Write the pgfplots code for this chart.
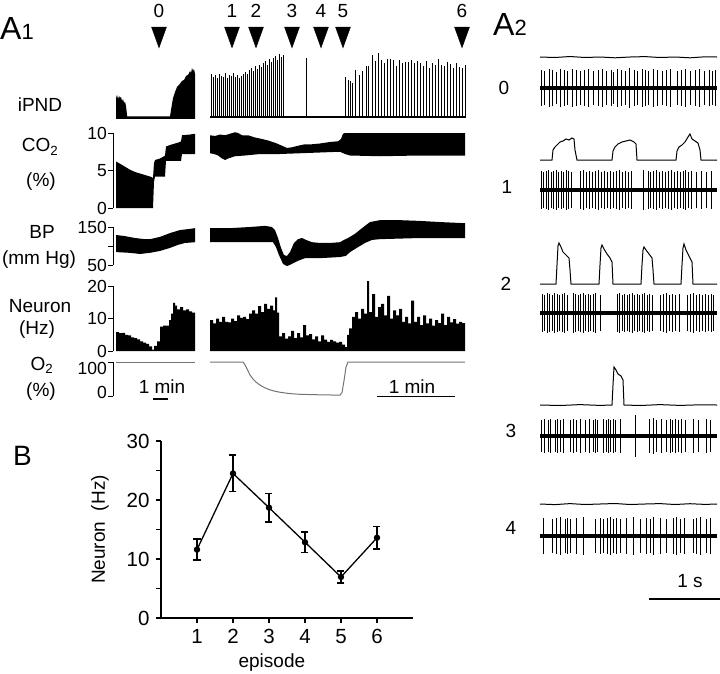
\documentclass[border=0pt]{standalone}
\usepackage{pgfplots}
\pgfplotsset{compat=1.18}
\usepackage{fontspec}
\setmainfont{Liberation Sans}

\pgfplotsset{
  /pgf/number format/assume math mode=true,
  trace/.style={scale only axis, clip=false, xmin=113, xmax=465, width=352pt,
    axis y line=left, axis x line=none, axis line style={-, line width=1pt},
    tick align=outside, major tick length=5pt, tick style={line width=1pt, black},
    xtick=\empty, yticklabel style={inner sep=1pt, font=\fontsize{17.5}{20}\selectfont},
    anchor=south west},
  spikes/.style={black, line width=3.5pt, mark=none,
    error bars/.cd, y dir=both, y explicit, error mark=none,
    error bar style={line width=1pt}},
  upspikes/.style={draw=none, mark=none,
    error bars/.cd, y dir=plus, y explicit, error mark=none,
    error bar style={draw=black, line width=0.9pt}},
}

\begin{document}
\fontsize{19}{22}\selectfont
\begin{tikzpicture}
\useasboundingbox (0,0) rectangle (720pt,-674pt);

% ---------------- A1 ----------------
\node[anchor=base west, inner sep=0] at (0pt,-40pt) {\fontsize{32}{34}\selectfont A\fontsize{22}{24}\selectfont 1};

% iPND
\begin{axis}[trace, hide axis, ymin=0, ymax=70, height=70pt, at={(113pt,-118pt)}]
\addplot[fill=black, draw=none] coordinates {
 (116,-1)(116,20)(117,23)(118,19)(119,22)(120,20)(121,21)(122,17)(123,19)(124,15)
 (125,16)(126,12)(127,3)(127,1.5)(170,1.5)(171,8)(173,20)(175,26)(177,31)(179,33)
 (182,37)(184,38)(186,42)(188,43)(190,47)(191,45)(192,50)(193,47)(194,49)(195,44)(195,-1)};
\addplot[black, line width=2pt] coordinates {(210,0.5)(465,0.5)};
\addplot[upspikes] table[y error=e] {
x y e
211 0 44
213 0 41
215 0 43
217 0 40
219 0 44
221 0 42
223 0 41
225 0 45
227 0 40
229 0 43
231 0 42
233 0 45
235 0 41
237 0 43
239 0 40
241 0 42
243 0 44
245 0 46
247 0 44
249 0 48
251 0 50
253 0 47
255 0 52
257 0 49
259 0 53
261 0 51
263 0 55
265 0 57
267 0 53
269 0 59
271 0 56
273 0 60
275 0 62
277 0 58
279 0 64
281 0 61
283 0 63
306 0 60
345 0 41
348 0 38
350 0 37
352 0 35
355 0 48
359 0 43
362 0 47
366 0 52
368 0 52
372 0 63
375 0 57
378 0 65
381 0 58
384 0 55
387 0 59
390 0 59
393 0 58
396 0 52
399 0 58
402 0 55
405 0 56
408 0 56
411 0 58
414 0 55
417 0 57
420 0 55
423 0 52
426 0 57
429 0 50
432 0 55
435 0 53
438 0 59
441 0 53
444 0 52
447 0 56
450 0 54
453 0 50
456 0 55
459 0 51
462 0 50
465 0 53
};
\addplot[only marks, mark=triangle*, mark size=8.6pt,
  mark options={rotate=180, yscale=1.6, fill=black, draw=none},
  point meta=explicit symbolic, nodes near coords,
  every node near coord/.style={anchor=base, yshift=16.5pt}]
  coordinates {(159,84)[0] (232,84)[1] (256,84)[2] (292,84)[3] (321,84)[4] (343,84)[5] (462,84)[6]};
\end{axis}
\node[anchor=base] at (40pt,-112pt) {iPND};

% CO2
\begin{axis}[trace, ymin=0, ymax=10, height=75pt, ytick={0,5,10}, at={(113pt,-208pt)}]
\addplot[fill=black, draw=none] coordinates {
 (116,6.2)(120,5.9)(125,5.5)(130,5.1)(135,4.8)(140,4.6)(145,4.4)(150,4.2)(152,4.1)(153,4.0)
 (154,6.0)(155,6.4)(160,6.6)(164,6.9)(165,7.0)(166,8.2)(170,8.4)(175,8.6)(180,8.8)(181,8.9)
 (182,9.7)(190,9.8)(195,9.9)
 (195,7.2)(182,7.2)(181,6.3)(166,6.3)(165,4.2)(155,4.2)(154,3.5)(153,0)(116,0)};
\addplot[fill=black, draw=none] coordinates {
 (210,9.7)(215,9.6)(220,9.8)(225,9.7)(230,9.9)(235,10.1)(238,10.0)(242,9.7)(248,9.7)(255,9.4)
 (262,9.2)(268,9.0)(275,8.7)(282,8.3)(287,8.0)(292,8.1)(298,8.3)(305,8.5)(312,8.5)(320,8.6)
 (330,8.8)(338,8.9)(341,9.2)(343,9.9)(345,10.0)(465,10.0)
 (465,7.0)(420,7.0)(380,6.9)(350,7.0)(345,7.2)(340,7.5)(320,7.4)(300,7.3)(280,7.2)(260,7.2)
 (245,7.0)(235,6.9)(228,6.6)(225,6.4)(222,6.6)(218,7.0)(214,7.2)(210,7.3)};
\end{axis}
\node[anchor=base] at (40pt,-152pt) {CO\textsubscript{2}};
\node[anchor=base] at (41pt,-186pt) {(\%)};

% BP
\begin{axis}[trace, ymin=50, ymax=150, height=38pt, ytick={50,100,150}, yticklabels={50,,150},
  at={(113pt,-265pt)}]
\addplot[fill=black, draw=none] coordinates {
 (116,129)(125,126)(135,121)(145,118)(150,118)(160,124)(170,134)(180,142)(190,145)(195,147)
 (195,110)(185,108)(178,103)(170,95)(160,87)(150,82)(140,79)(130,82)(116,84)};
\addplot[fill=black, draw=none] coordinates {
 (210,147)(230,147)(250,150)(265,153)(272,150)(275,142)(278,121)(281,95)(284,76)(287,74)
 (290,84)(294,108)(298,118)(302,121)(306,116)(312,110)(320,108)(330,108)(340,110)(344,116)
 (348,121)(355,132)(362,147)(370,163)(380,168)(400,168)(420,166)(440,163)(465,160)
 (465,121)(420,121)(380,118)(372,116)(365,108)(358,97)(350,84)(346,74)(340,71)(320,68)
 (305,68)(298,61)(292,53)(287,47)(283,53)(279,76)(276,97)(273,110)(260,110)(230,110)(210,110)};
\end{axis}
\node[anchor=base] at (42pt,-238pt) {BP};
\node[anchor=base] at (39pt,-264pt) {(mm Hg)};

% Neuron rate
\begin{axis}[trace, ymin=0, ymax=20, height=65pt, ytick={0,10,20}, at={(113pt,-351pt)}]
\addplot[const plot, fill=black, draw=none] coordinates {
 (116,5.8)(119,5.5)(122,5.6)(125,5.0)(128,4.8)(131,4.2)(134,4.0)(137,3.6)(140,3.0)(143,2.6)
 (146,2.2)(149,1.4)(152,0.4)(154,1.6)(157,3.0)(160,7.5)(163,7.8)(166,7.8)(169,9.5)(171,11.5)
 (173,14.8)(175,14.0)(177,12.8)(180,13.5)(183,12.5)(186,12.8)(189,12.2)(192,11.8)(195,11.5)}
 \closedcycle;
\addplot[const plot, fill=black, draw=none] coordinates {
 (210,9.5)(213,8.5)(216,10.0)(219,9.0)(222,10.5)(225,9.0)(228,8.8)(231,10.0)(234,9.2)(237,11.0)
 (240,10.2)(243,10.5)(246,9.8)(249,11.5)(252,12.5)(255,11.5)(258,13.8)(261,12.0)(264,14.5)(267,13.0)
 (270,14.0)(273,12.5)(275,16.5)(277,11.8)(279,4.5)(282,5.5)(285,3.8)(288,4.5)(291,6.2)(294,4.0)
 (297,5.5)(300,4.2)(303,8.0)(306,4.8)(309,5.2)(312,3.6)(315,4.5)(318,3.0)(321,4.8)(324,3.5)
 (327,2.8)(330,3.4)(333,3.0)(336,2.6)(339,2.8)(342,2.0)(345,1.2)(347,5.0)(349,7.0)(352,10.5)
 (355,12.0)(358,10.0)(361,13.0)(364,11.5)(367,21.5)(369,12.0)(372,17.5)(375,10.5)(378,13.5)(381,14.5)
 (384,11.0)(387,17.0)(390,10.0)(393,12.5)(396,11.0)(399,13.0)(402,9.0)(405,10.5)(408,8.5)(411,15.5)
 (414,9.0)(417,10.5)(420,8.0)(423,11.0)(426,8.5)(429,10.0)(432,7.8)(435,9.5)(438,8.6)(441,11.5)
 (444,8.0)(447,10.5)(450,8.8)(453,9.8)(456,8.4)(459,9.0)(462,8.6)(465,8.6)}
 \closedcycle;
\end{axis}
\node[anchor=base] at (40pt,-312pt) {Neuron};
\node[anchor=base] at (37pt,-334pt) {(Hz)};

% O2 (tick labels set a little inside the bracket, as in the original)
\begin{axis}[trace, ymin=0, ymax=100, height=34pt, ytick={0,100}, yticklabels={,},
  at={(113pt,-396pt)}]
\addplot[black!55, line width=1pt] coordinates {(116,100)(195,100)};
\addplot[black!55, line width=1pt] coordinates {
 (210,100)(243,100)(245,92)(247,80)(250,62)(253,50)(256,41)(260,32)(265,24)(270,18)
 (275,14)(280,11)(290,7)(300,5)(320,3.5)(340,2.5)(342,10)(344,45)(346,85)(348,100)(465,100)};
\addplot[black, line width=1.2pt] coordinates {(153,-9)(168,-9)};
\addplot[black, line width=1.2pt] coordinates {(377,-1)(455,-1)};
\end{axis}
\node[anchor=east, inner sep=1pt, font=\fontsize{17.5}{20}\selectfont] at (108pt,-368pt) {100};
\node[anchor=east, inner sep=1pt, font=\fontsize{17.5}{20}\selectfont] at (108pt,-392pt) {0};
\node[anchor=base] at (42pt,-370pt) {O\textsubscript{2}};
\node[anchor=base] at (41pt,-396pt) {(\%)};
\node[anchor=base] at (162pt,-393pt) {1 min};
\node[anchor=base] at (412pt,-393pt) {1 min};

% ---------------- B ----------------
\node[anchor=base west, inner sep=0] at (13pt,-465pt) {\fontsize{28}{30}\selectfont B};
\begin{axis}[scale only axis, width=252pt, height=177pt, at={(161pt,-618pt)}, anchor=south west,
  xmin=0, xmax=7, ymin=0, ymax=30, axis lines=left, axis line style={-, line width=1.2pt},
  xtick={1,...,6}, ytick={0,10,20,30}, minor ytick={5,15,25},
  tick align=outside, major tick length=5pt, minor tick length=5pt,
  tick style={line width=1.2pt, black},
  tick label style={font=\fontsize{20.5}{23}\selectfont},
  label style={font=\fontsize{20}{23}\selectfont},
  xlabel={episode}, ylabel={Neuron\ \ (Hz)},
  every axis y label/.style={at={(axis description cs:-0.242,0.5)}, rotate=90, anchor=center},
  every axis x label/.style={at={(axis description cs:0.44,-0.282)}, anchor=base}]
\addplot[black, line width=1.3pt, mark=*, mark size=2.5pt,
  error bars/.cd, y dir=both, y explicit,
  error bar style={line width=1.5pt},
  error mark options={rotate=90, mark size=3.5pt, line width=1.5pt}]
  coordinates {
  (1,11.6) +- (0,1.75)
  (2,24.5) +- (0,3.1)
  (3,18.7) +- (0,2.4)
  (4,12.85) +- (0,1.75)
  (5,6.95) +- (0,1.05)
  (6,13.6) +- (0,1.9)
  };
\end{axis}

% ---------------- A2 ----------------
\node[anchor=base west, inner sep=0] at (493pt,-36pt) {\fontsize{32}{34}\selectfont A\fontsize{22}{24}\selectfont 2};
\begin{axis}[scale only axis, hide axis, clip=false, width=180pt, height=570pt,
  xmin=540, xmax=720, ymin=40, ymax=610, y dir=reverse, at={(540pt,-610pt)}, anchor=south west]
% episode 0
\addplot[black, line width=1pt] coordinates {
 (540,57)(555,57.5)(570,56.5)(585,57.5)(600,57)(615,57.8)(630,57)(645,56.6)(660,57.5)(675,57)(690,57.8)(705,56.8)(717,57)};
\addplot[spikes] table[y error=e] {
x y e
540 88 0
541 88 18
544.5 88 17
549 88 19
552.5 88 18
556 88 16
560 88 19
564 88 18
567 88 17
572 88 19
576 88 18
580 88 17
584 88 18
588 88 19
593 88 17
598 88 18
602.5 88 19
606.5 88 17
611 88 18
613.5 88 16
617 88 19
621 88 18
625.5 88 17
629.5 88 20
634 88 18
637 88 17
642 88 19
645 88 18
648 88 17
653 88 19
657 88 18
662 88 17
666 88 18
670 88 19
677 88 17
681 88 18
685 88 19
690 88 17
695 88 18
699 88 19
704 88 17
709 88 18
712 88 17
715 88 18
717 88 0
};
% episode 1
\addplot[black, line width=1pt] coordinates {
 (540,160)(552,160)(553,150)(555,147)(557,145)(560,142)(563,141)(566,139)(569,140)(572,138)(574,139)
 (575,150)(577,160)(612,160)(613,151)(615,147)(618,144)(622,142)(626,141)(630,140)(634,142)(636,144)
 (637,160)(676,160)(677,151)(679,147)(682,145)(685,142)(688,137)(690,134)(692,139)(695,141)(698,143)
 (700,150)(701,160)(717,160)};
\addplot[spikes] table[y error=e] {
x y e
540 190 0
541 190 19
543.5 190 18
546 190 19
548.5 190 20
551 190 18
553.5 190 19
556 190 20
558.5 190 18
561 190 19
563.5 190 18
566 190 20
568.5 190 19
571 190 18
580 190 19
583 190 20
586 190 18
589 190 19
592 190 18
595 190 19
598 190 20
601 190 18
604 190 19
607 190 18
610 190 19
613 190 18
616 190 19
619 190 20
622 190 18
625 190 19
628 190 18
631 190 19
643 190 20
648 190 19
650.5 190 18
653 190 19
656 190 20
659 190 18
662 190 19
665 190 18
668 190 19
671 190 20
674 190 18
677 190 19
680 190 18
683 190 19
685.5 190 20
688 190 18
691 190 19
696 190 18
701 190 19
706 190 18
711 190 19
717 190 0
};
% episode 2
\addplot[black, line width=1pt] coordinates {
 (540,284)(556,284)(557,265)(558,246)(559,243)(561,247)(563,252)(566,255)(569,258)(570,270)(571,284)
 (599,284)(600,265)(601,248)(602,245)(604,249)(607,254)(610,258)(612,262)(613,284)
 (641,284)(642,265)(643,250)(644,247)(646,250)(649,254)(652,258)(653,270)(654,284)
 (681,284)(682,265)(683,248)(684,244)(686,250)(689,256)(692,262)(693,284)(717,284)};
\addplot[spikes] table[y error=e] {
x y e
540 313 0
542 313 19
544.5 313 18
547 313 20
549.5 313 19
552 313 18
554.5 313 20
557 313 19
559.5 313 18
562 313 19
564.5 313 20
567 313 18
573 313 20
575.5 313 19
578 313 18
580.5 313 19
583 313 20
585.5 313 18
588 313 19
590.5 313 18
593 313 19
595.5 313 20
600 313 18
617 313 19
619.5 313 20
622 313 18
624.5 313 19
627 313 18
629.5 313 19
632 313 20
634.5 313 18
637 313 19
639.5 313 18
642 313 19
644.5 313 20
647 313 18
649.5 313 19
652 313 18
660 313 18
663 313 19
666 313 20
669 313 18
672 313 19
675 313 18
679 313 19
687 313 18
690 313 19
693 313 20
696 313 18
699 313 19
702 313 18
705 313 19
708 313 18
711 313 19
713.5 313 18
717 313 0
};
% episode 3
\addplot[black, line width=1pt] coordinates {
 (540,405)(560,405.5)(580,404.6)(600,405.4)(612,405)(613,385)(614,367)(616,370)(618,374)(621,376)
 (623,380)(624,405)(640,405.5)(660,404.6)(680,405.4)(700,404.8)(717,405)};
\addplot[spikes] table[y error=e] {
x y e
540 436 0
541 436 16
544 436 17
548.3 436 16
550.7 436 17
555 436 16
557.3 436 17
560 436 16
563.3 436 17
570 436 16
573.3 436 17
576.7 436 16
580 436 17
585 436 16
589.3 436 17
593.3 436 16
595 436 17
597.3 436 16
603.3 436 17
606 436 16
608.3 436 17
610.7 436 16
613.3 436 17
615 436 16
620 436 17
635 436 21
649.3 436 17
653.3 436 18
656.7 436 16
661.7 436 17
666.7 436 16
670 436 17
672.7 436 16
675 436 17
678.3 436 16
681.7 436 17
685 436 16
693.3 436 17
698.3 436 16
706.7 436 17
710 436 16
717 436 0
};
% episode 4
\addplot[black, line width=1pt] coordinates {
 (540,504)(555,504.6)(570,503.6)(585,504.5)(600,504)(615,503.5)(630,504.5)(645,504)(660,503.6)(675,504.5)(690,503.7)(705,504.4)(717,504)};
\addplot[spikes] table[y error=e] {
x y e
540 536 0
543.3 536 18
552.7 536 17
556.7 536 18
560 536 19
565 536 17
567.3 536 18
570.7 536 17
576.7 536 18
583.3 536 19
595 536 17
600 536 18
603.3 536 17
607.3 536 18
610.7 536 19
613.3 536 17
616.7 536 18
620.7 536 17
626.7 536 18
633.3 536 19
640 536 17
646.7 536 18
650 536 17
653.3 536 19
660 536 18
666.7 536 17
673.3 536 18
676.7 536 19
680 536 17
684 536 18
693.3 536 17
696.7 536 18
700 536 19
706.7 536 17
710 536 18
717 536 0
};
\addplot[black, line width=1.2pt] coordinates {(649,599)(720,599)};
\end{axis}
\node[anchor=base] at (504pt,-95pt) {0};
\node[anchor=base] at (507pt,-193pt) {1};
\node[anchor=base] at (506pt,-290pt) {2};
\node[anchor=base] at (511pt,-437pt) {3};
\node[anchor=base] at (511pt,-534pt) {4};
\node[anchor=base] at (690pt,-587pt) {1 s};
\end{tikzpicture}
\end{document}
